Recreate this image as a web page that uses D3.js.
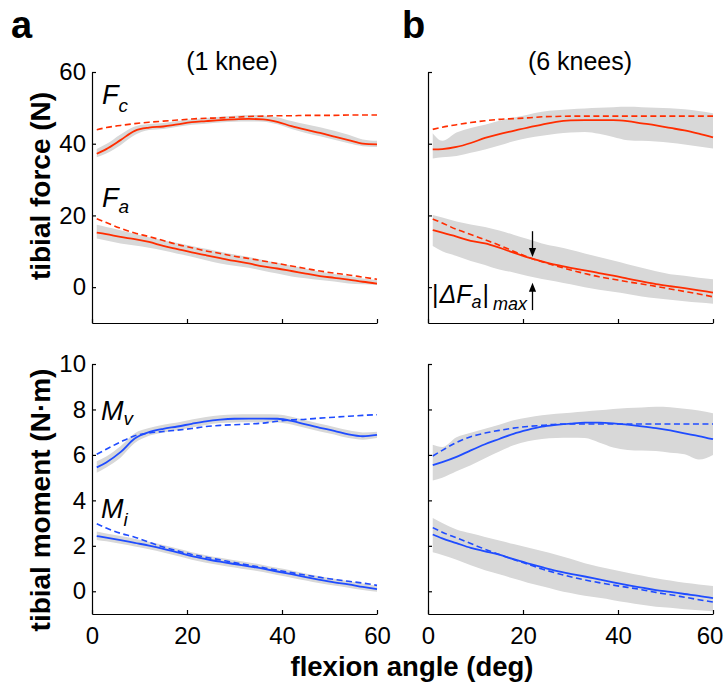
<!DOCTYPE html>
<html>
<head>
<meta charset="utf-8">
<script src="https://cdn.jsdelivr.net/npm/d3@7"></script>
<style>
  body { margin: 0; background: #fff; }
  svg { display: block; }
  text { font-family: "Liberation Sans", Arial, Helvetica, sans-serif; fill: #000; }
</style>
</head>
<body>
<svg id="fig" width="725" height="686"></svg>
<script>
// Flexion angles (deg) at which every curve is sampled
const angles = [1, 3, 6, 9, 12, 15, 18, 21, 24, 27, 30, 33, 36, 39, 42, 45, 48, 51, 54, 57, 60];

// ---- (a) one knee: tibial force (N)
const fcMeas1  = [37.2, 38.5, 41.0, 43.6, 44.5, 44.8, 45.4, 46.0, 46.3, 46.6, 46.8, 46.9, 46.8, 46.1, 44.9, 43.9, 43.0, 42.0, 41.0, 40.0, 39.8];
const fcModel1 = [43.9, 44.5, 45.1, 45.6, 46.0, 46.3, 46.6, 46.9, 47.1, 47.2, 47.4, 47.6, 47.7, 47.8, 47.8, 47.9, 47.9, 47.9, 48.0, 48.0, 48.0];
const fcHi1    = [38.5, 39.9, 42.6, 44.8, 45.5, 45.8, 46.3, 46.8, 47.2, 47.5, 47.8, 48.0, 47.9, 47.4, 46.3, 45.4, 44.6, 43.6, 42.5, 41.2, 40.8];
const fcLo1    = [36.2, 37.3, 39.6, 42.4, 43.8, 44.1, 44.7, 45.3, 45.6, 45.9, 46.1, 46.2, 46.1, 45.4, 44.1, 43.0, 42.1, 41.1, 40.1, 39.3, 39.1];

const faMeas1  = [15.2, 14.8, 14.0, 13.4, 12.6, 11.5, 10.6, 9.7, 8.9, 8.1, 7.3, 6.6, 5.8, 5.2, 4.5, 3.8, 3.1, 2.6, 2.1, 1.5, 1.0];
const faModel1 = [19.1, 18.0, 16.4, 15.1, 14.1, 13.0, 11.9, 11.0, 10.1, 9.4, 8.6, 8.0, 7.3, 6.6, 5.9, 5.2, 4.5, 3.9, 3.4, 2.8, 2.2];
const faHi1    = [17.4, 16.8, 15.9, 14.9, 13.9, 13.1, 12.3, 11.5, 10.7, 9.9, 9.1, 8.4, 7.6, 6.8, 6.0, 5.1, 4.3, 3.7, 3.1, 2.4, 2.0];
const faLo1    = [13.6, 13.0, 12.2, 11.6, 11.0, 10.2, 9.3, 8.5, 7.5, 6.6, 6.0, 5.4, 4.6, 3.8, 3.0, 2.5, 2.0, 1.6, 1.0, 0.8, 0.6];

// ---- (b) six knees: tibial force (N)
const fcMeas6  = [38.4, 38.5, 39.1, 40.2, 41.6, 42.7, 43.6, 44.5, 45.3, 46.1, 46.5, 46.6, 46.6, 46.6, 46.3, 45.7, 45.1, 44.4, 43.7, 42.8, 41.8];
const fcModel6 = [44.0, 44.6, 45.3, 45.9, 46.4, 46.8, 47.0, 47.2, 47.5, 47.6, 47.7, 47.7, 47.7, 47.7, 47.7, 47.7, 47.7, 47.7, 47.7, 47.7, 47.7];
const fcHi6    = [42.9, 40.8, 43.1, 44.4, 45.3, 46.4, 47.3, 48.1, 48.9, 49.3, 49.6, 49.8, 50.0, 50.2, 50.3, 50.2, 50.0, 49.9, 49.6, 49.1, 48.5];
const fcLo6    = [35.9, 36.2, 36.6, 37.5, 38.4, 39.5, 40.7, 41.6, 42.2, 42.8, 43.1, 43.3, 42.8, 41.9, 41.0, 40.8, 40.6, 40.3, 39.8, 39.2, 38.7];

const faMeas6  = [15.9, 15.2, 14.1, 12.9, 12.2, 11.0, 9.6, 8.3, 7.2, 6.2, 5.4, 4.7, 3.9, 3.2, 2.4, 1.6, 0.85, 0.25, -0.3, -0.9, -1.5];
const faModel6 = [19.0, 17.9, 16.1, 14.7, 13.2, 11.7, 10.0, 8.4, 7.1, 5.9, 4.8, 3.8, 2.9, 2.2, 1.5, 0.9, 0.2, -0.5, -1.2, -1.9, -2.7];
const faHi6    = [20.1, 19.4, 18.3, 17.5, 16.8, 15.8, 14.6, 13.4, 12.2, 11.3, 10.4, 9.4, 8.4, 7.4, 6.4, 5.4, 4.4, 3.6, 3.2, 2.6, 2.2];
const faLo6    = [11.5, 10.0, 8.7, 7.3, 6.2, 4.9, 4.1, 3.1, 2.3, 1.6, 0.8, 0.0, -0.7, -1.3, -1.9, -2.6, -3.1, -3.5, -3.9, -4.3, -4.6];

// ---- (a) one knee: tibial moment (N·m)
const mvMeas1  = [5.45, 5.67, 6.12, 6.72, 7.00, 7.15, 7.25, 7.37, 7.48, 7.55, 7.59, 7.60, 7.60, 7.59, 7.50, 7.34, 7.19, 7.06, 6.90, 6.82, 6.88];
const mvModel1 = [6.03, 6.25, 6.57, 6.84, 6.96, 7.03, 7.09, 7.16, 7.25, 7.30, 7.33, 7.36, 7.40, 7.48, 7.54, 7.57, 7.62, 7.66, 7.70, 7.74, 7.77];
const mvHi1    = [5.72, 5.93, 6.38, 6.95, 7.18, 7.33, 7.43, 7.56, 7.67, 7.74, 7.78, 7.79, 7.79, 7.78, 7.68, 7.52, 7.37, 7.23, 7.08, 6.99, 7.02];
const mvLo1    = [5.22, 5.45, 5.88, 6.52, 6.84, 6.99, 7.09, 7.21, 7.32, 7.40, 7.43, 7.44, 7.44, 7.43, 7.34, 7.18, 7.03, 6.90, 6.74, 6.67, 6.74];

const miMeas1  = [2.43, 2.36, 2.25, 2.13, 2.01, 1.87, 1.71, 1.55, 1.42, 1.30, 1.20, 1.10, 1.00, 0.87, 0.75, 0.62, 0.50, 0.39, 0.30, 0.19, 0.09];
const miModel1 = [2.97, 2.78, 2.55, 2.38, 2.16, 1.95, 1.78, 1.62, 1.50, 1.38, 1.26, 1.15, 1.04, 0.93, 0.82, 0.71, 0.61, 0.52, 0.44, 0.36, 0.26];
const miHi1    = [2.63, 2.54, 2.43, 2.31, 2.18, 2.04, 1.88, 1.72, 1.59, 1.47, 1.37, 1.27, 1.16, 1.03, 0.91, 0.78, 0.66, 0.55, 0.45, 0.34, 0.24];
const miLo1    = [2.26, 2.20, 2.09, 1.97, 1.85, 1.71, 1.55, 1.39, 1.26, 1.15, 1.05, 0.95, 0.85, 0.72, 0.60, 0.47, 0.35, 0.25, 0.16, 0.06, -0.02];

// ---- (b) six knees: tibial moment (N·m)
const mvMeas6  = [5.55, 5.68, 5.91, 6.20, 6.47, 6.70, 6.93, 7.10, 7.24, 7.32, 7.38, 7.42, 7.42, 7.39, 7.33, 7.26, 7.18, 7.08, 6.95, 6.83, 6.69];
const mvModel6 = [5.95, 6.20, 6.55, 6.80, 6.96, 7.08, 7.18, 7.25, 7.30, 7.35, 7.36, 7.36, 7.36, 7.36, 7.36, 7.36, 7.36, 7.36, 7.36, 7.36, 7.36];
const mvHi6    = [6.45, 6.35, 6.78, 6.98, 7.15, 7.33, 7.52, 7.65, 7.74, 7.81, 7.86, 7.91, 7.96, 8.02, 8.06, 8.09, 8.12, 8.10, 8.03, 7.95, 7.83];
const mvLo6    = [4.87, 5.00, 5.28, 5.55, 5.85, 6.15, 6.42, 6.60, 6.70, 6.74, 6.75, 6.74, 6.55, 6.33, 6.22, 6.19, 6.17, 6.10, 6.03, 5.80, 6.00];

const miMeas6  = [2.50, 2.33, 2.12, 1.91, 1.76, 1.61, 1.41, 1.23, 1.06, 0.90, 0.77, 0.65, 0.52, 0.39, 0.27, 0.16, 0.05, -0.03, -0.12, -0.20, -0.30];
const miModel6 = [2.80, 2.60, 2.35, 2.10, 1.85, 1.62, 1.40, 1.19, 0.98, 0.80, 0.64, 0.50, 0.38, 0.27, 0.17, 0.07, -0.05, -0.15, -0.26, -0.37, -0.47];
const miHi6    = [3.22, 3.00, 2.72, 2.55, 2.39, 2.23, 2.08, 1.93, 1.77, 1.61, 1.43, 1.23, 1.08, 0.95, 0.82, 0.69, 0.57, 0.47, 0.37, 0.30, 0.23];
const miLo6    = [1.72, 1.60, 1.39, 1.15, 0.93, 0.75, 0.56, 0.38, 0.22, 0.06, -0.08, -0.20, -0.29, -0.39, -0.49, -0.59, -0.68, -0.73, -0.79, -0.84, -0.88];

// Axis ticks
const angleTicks  = [0, 20, 40, 60];
const forceTicks  = [0, 20, 40, 60];
const momentTicks = [0, 2, 4, 6, 8, 10];

// |ΔFa|max marker: flexion angle and [tail, tip] force values of the two arrows
const deltaAngle = 22;
const deltaDown  = [15.6, 8.4];
const deltaUp    = [-6.4, 1.2];

const RED = "#ff2d00", BLUE = "#1f4cff", GRAY = "#d8d8d8";
const svg = d3.select("#fig");

function styleAxis(g) {
  g.attr("font-family", null).attr("font-size", null);
  g.select(".domain").attr("stroke", "#000").attr("stroke-width", 1.2);
  g.selectAll(".tick line").attr("stroke", "#000").attr("stroke-width", 1.2);
  g.selectAll(".tick text").style("font-size", "24px").attr("fill", "#000");
}

function drawPanel(box, yDomain, yTicks, showY, showX, series) {
  const x = d3.scaleLinear().domain([0, 60]).range([box.left, box.right]);
  const y = d3.scaleLinear().domain(yDomain).range([box.bottom, box.top]);
  const g = svg.append("g");

  const rowsOf = s => angles.map((a, i) => ({ a, lo: s.lo[i], hi: s.hi[i], m: s.meas[i], f: s.model[i] }));

  const band = d3.area().x(d => x(d.a)).y0(d => y(d.lo)).y1(d => y(d.hi)).curve(d3.curveMonotoneX);
  const model = d3.line().x(d => x(d.a)).y(d => y(d.f)).curve(d3.curveMonotoneX);
  const meas = d3.line().x(d => x(d.a)).y(d => y(d.m)).curve(d3.curveMonotoneX);

  series.forEach(s => g.append("path").datum(rowsOf(s)).attr("d", band).attr("fill", GRAY));
  series.forEach(s => g.append("path").datum(rowsOf(s)).attr("d", model)
    .attr("fill", "none").attr("stroke", s.color).attr("stroke-width", 1.6).attr("stroke-dasharray", "6,3.5"));
  series.forEach(s => g.append("path").datum(rowsOf(s)).attr("d", meas)
    .attr("fill", "none").attr("stroke", s.color).attr("stroke-width", 1.8));

  const yAxis = d3.axisLeft(y).tickValues(yTicks).tickSizeInner(-4).tickSizeOuter(0).tickPadding(6)
    .tickFormat(showY ? d3.format("d") : () => "");
  g.append("g").attr("transform", `translate(${box.left},0)`).call(yAxis).call(styleAxis);

  const xAxis = d3.axisBottom(x).tickValues(angleTicks).tickSizeInner(-4).tickSizeOuter(0).tickPadding(13)
    .tickFormat(showX ? d3.format("d") : () => "");
  const xg = g.append("g").attr("transform", `translate(0,${box.bottom})`).call(xAxis).call(styleAxis);

  return { x, y, g, xg };
}

const forceDomain = [-10, 60], momentDomain = [-1, 10];
const colL = { left: 92, right: 377 }, colR = { left: 428, right: 713 };
const rowT = { top: 72, bottom: 323 }, rowB = { top: 364, bottom: 614 };

drawPanel({ ...colL, ...rowT }, forceDomain, forceTicks, true, false, [
  { meas: fcMeas1, model: fcModel1, hi: fcHi1, lo: fcLo1, color: RED },
  { meas: faMeas1, model: faModel1, hi: faHi1, lo: faLo1, color: RED }
]);
const pForce6 = drawPanel({ ...colR, ...rowT }, forceDomain, forceTicks, false, false, [
  { meas: fcMeas6, model: fcModel6, hi: fcHi6, lo: fcLo6, color: RED },
  { meas: faMeas6, model: faModel6, hi: faHi6, lo: faLo6, color: RED }
]);
drawPanel({ ...colL, ...rowB }, momentDomain, momentTicks, true, true, [
  { meas: mvMeas1, model: mvModel1, hi: mvHi1, lo: mvLo1, color: BLUE },
  { meas: miMeas1, model: miModel1, hi: miHi1, lo: miLo1, color: BLUE }
]);
const pMoment6 = drawPanel({ ...colR, ...rowB }, momentDomain, momentTicks, false, true, [
  { meas: mvMeas6, model: mvModel6, hi: mvHi6, lo: mvLo6, color: BLUE },
  { meas: miMeas6, model: miModel6, hi: miHi6, lo: miLo6, color: BLUE }
]);
// keep the last angle label inside the page edge
pMoment6.xg.selectAll(".tick text").filter(d => d === 60).attr("dx", -3.5);

// |ΔFa|max arrows
function arrow(g, x, y0, y1) {
  const dir = Math.sign(y1 - y0);
  g.append("line").attr("x1", x).attr("x2", x).attr("y1", y0).attr("y2", y1 - dir * 7)
    .attr("stroke", "#000").attr("stroke-width", 1.3);
  g.append("path").attr("d", `M${x},${y1}L${x - 3.6},${y1 - dir * 9}L${x + 3.6},${y1 - dir * 9}Z`).attr("fill", "#000");
}
{
  const { x, y, g } = pForce6;
  arrow(g, x(deltaAngle), y(deltaDown[0]), y(deltaDown[1]));
  arrow(g, x(deltaAngle), y(deltaUp[0]), y(deltaUp[1]));
  const t = g.append("text").attr("x", 432).attr("y", 303).style("font-size", "25px");
  t.append("tspan").text("|");
  t.append("tspan").style("font-style", "italic").attr("dx", 1).text("ΔF");
  t.append("tspan").style("font-style", "italic").style("font-size", "18px").attr("dy", 5).text("a");
  t.append("tspan").attr("dy", -5).attr("dx", 1).text("|");
  t.append("tspan").style("font-style", "italic").style("font-size", "18px").attr("dy", 7).attr("dx", 4).text("max");
}

// Curve names
function symbol(x, yb, main, sub, dy) {
  const t = svg.append("text").attr("x", x).attr("y", yb).style("font-size", "27px").style("font-style", "italic");
  t.append("tspan").text(main);
  t.append("tspan").style("font-size", "19px").attr("dy", dy).attr("dx", 0).text(sub);
}
symbol(102, 104, "F", "c", 8);
symbol(102, 207, "F", "a", 6);
symbol(101, 420, "M", "v", 5);
symbol(101, 518, "M", "i", 8);

// Titles, panel letters, axis labels
svg.append("text").attr("x", 232).attr("y", 70).attr("text-anchor", "middle").style("font-size", "25px").text("(1 knee)");
svg.append("text").attr("x", 580).attr("y", 70).attr("text-anchor", "middle").style("font-size", "25px").text("(6 knees)");
svg.append("text").attr("x", 11).attr("y", 38).style("font-size", "38px").style("font-weight", "bold").text("a");
svg.append("text").attr("x", 402).attr("y", 38).style("font-size", "38px").style("font-weight", "bold").text("b");

svg.append("text").attr("transform", "translate(50,186) rotate(-90)").attr("text-anchor", "middle")
  .style("font-size", "28px").style("font-weight", "bold").text("tibial force (N)");
svg.append("text").attr("transform", "translate(50,500) rotate(-90)").attr("text-anchor", "middle")
  .style("font-size", "28px").style("font-weight", "bold").text("tibial moment (N·m)");
svg.append("text").attr("x", 412).attr("y", 676).attr("text-anchor", "middle")
  .style("font-size", "27.5px").style("font-weight", "bold").text("flexion angle (deg)");
</script>
</body>
</html>
